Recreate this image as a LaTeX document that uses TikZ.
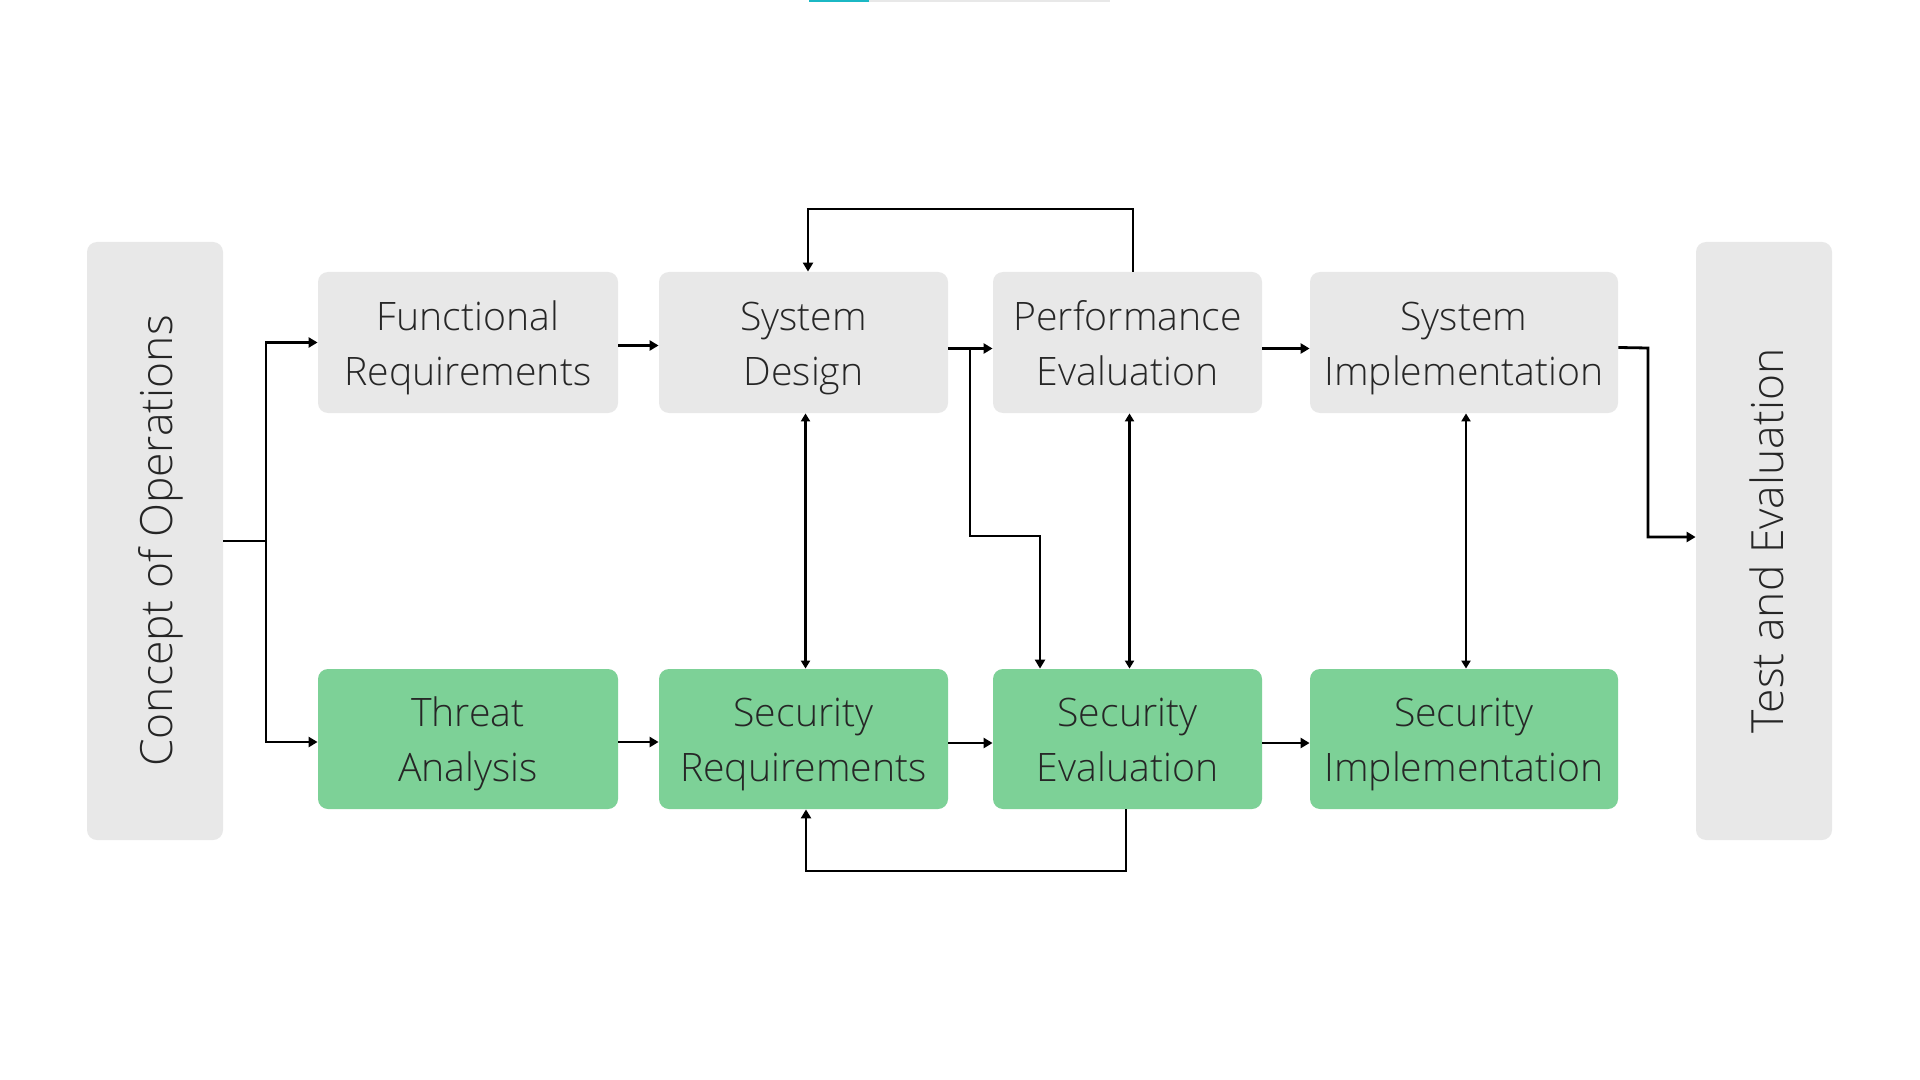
\documentclass[tikz,border=0pt]{standalone}
\usepackage{fontspec}
\setmainfont{Open Sans}[UprightFont={* Light}]
\usetikzlibrary{arrows.meta,calc}
\definecolor{boxgray}{HTML}{E8E8E8}
\definecolor{boxgreen}{HTML}{7DD197}
\definecolor{txt}{HTML}{262626}
\definecolor{teal}{HTML}{1BB8C4}
\newcommand{\twol}[2]{\rule{0pt}{23.5pt}#1\\\strut #2}
\tikzset{
  bx/.style={rounded corners=5pt, inner sep=0pt, align=center, text=txt,
    font=\fontsize{19.6}{27.5}\selectfont},
  gbx/.style={bx, fill=boxgray},
  grn/.style={bx, fill=boxgreen},
  side/.style={rotate=90, text=txt, font=\fontsize{22.2}{27}\selectfont},
  ln/.style={line width=1.4pt, black},
  arr/.style={ln, -{Triangle[length=4.5pt,width=5pt]}},
  darr/.style={ln, {Triangle[length=4pt,width=4.5pt]}-{Triangle[length=4pt,width=4.5pt]}},
}
\begin{document}
\begin{tikzpicture}[x=0.5pt,y=-0.5pt]
\useasboundingbox (0,0) rectangle (1920,1080);
\fill[white] (0,0) rectangle (1920,1080);
% top decoration
\fill[teal] (809,0) rectangle (869,2);
\fill[boxgray] (869,0) rectangle (1110,2);
% side boxes
\node[gbx, minimum width=68pt, minimum height=299pt] (co) at (155,541) {};
\node[side] (cot) at ([xshift=3pt]co.center) {Concept of Operations};
\node[gbx, minimum width=68pt, minimum height=299pt] (te) at (1764,541) {};
\node[side] (tet) at ([xshift=1.5pt]te.center) {Test and Evaluation};
% top row
\node[gbx, minimum width=150pt, minimum height=70.5pt] (fr) at (468,342.5) {\twol{Functional}{Requirements}};
\node[gbx, minimum width=144.5pt, minimum height=70.5pt] (sd) at (803.5,342.5) {\twol{System}{Design}};
\node[gbx, minimum width=134.5pt, minimum height=70.5pt] (pe) at (1127.5,342.5) {\twol{Performance}{Evaluation}};
\node[gbx, minimum width=154pt, minimum height=70.5pt] (si) at (1464,342.5) {\twol{System}{Implementation}};
% bottom row
\node[grn, minimum width=150pt, minimum height=70pt] (ta) at (468,739) {\twol{Threat}{Analysis}};
\node[grn, minimum width=144.5pt, minimum height=70pt] (sr) at (803.5,739) {\twol{Security}{Requirements}};
\node[grn, minimum width=134.5pt, minimum height=70pt] (se) at (1127.5,739) {\twol{Security}{Evaluation}};
\node[grn, minimum width=154pt, minimum height=70pt] (sm) at (1464,739) {\twol{Security}{Implementation}};
% connectors from concept
\coordinate (j1) at (266,541);
\draw[ln] (co.east) -- (j1);
\draw[arr] (j1) |- (fr.west);
\draw[arr] (j1) |- ([yshift=-1.5pt]ta.west);
% top row flow
\draw[arr] ([yshift=-1.5pt]fr.east) -- ([yshift=-1.5pt]sd.west);
\draw[arr] ([yshift=-3pt]sd.east) -- ([yshift=-3pt]pe.west);
\draw[arr] ([yshift=-3pt]pe.east) -- ([yshift=-3pt]si.west);
\coordinate (j2) at (1648,348);
\draw[arr] ([yshift=-2.5pt]si.east) -- (j2) |- ([yshift=2pt]te.west);
% branch from system design to security evaluation
\coordinate (b1) at (970,349);
\coordinate (b2) at (970,536);
\coordinate (b3) at (1040,536);
\draw[arr] (b1) -- (b2) -- (b3) -- (b3 |- se.north);
% top loop
\coordinate (t1) at (1133,209);
\coordinate (t2) at (808,209);
\draw[arr] (t1 |- pe.north) -- (t1) -- (t2) -- (t2 |- sd.north);
% bottom loop
\coordinate (u1) at (1126,871);
\coordinate (u2) at (806,871);
\draw[arr] (u1 |- se.south) -- (u1) -- (u2) -- (u2 |- sr.south);
% vertical double arrows
\draw[darr] ([xshift=1pt]sd.south) -- ([xshift=1pt]sr.north);
\draw[darr] ([xshift=1pt]pe.south) -- ([xshift=1pt]se.north);
\draw[darr] ([xshift=1pt]si.south) -- ([xshift=1pt]sm.north);
% bottom row flow
\draw[arr] ([yshift=-1.5pt]ta.east) -- ([yshift=-1.5pt]sr.west);
\draw[arr] ([yshift=-2pt]sr.east) -- ([yshift=-2pt]se.west);
\draw[arr] ([yshift=-2pt]se.east) -- ([yshift=-2pt]sm.west);
\end{tikzpicture}
\end{document}
